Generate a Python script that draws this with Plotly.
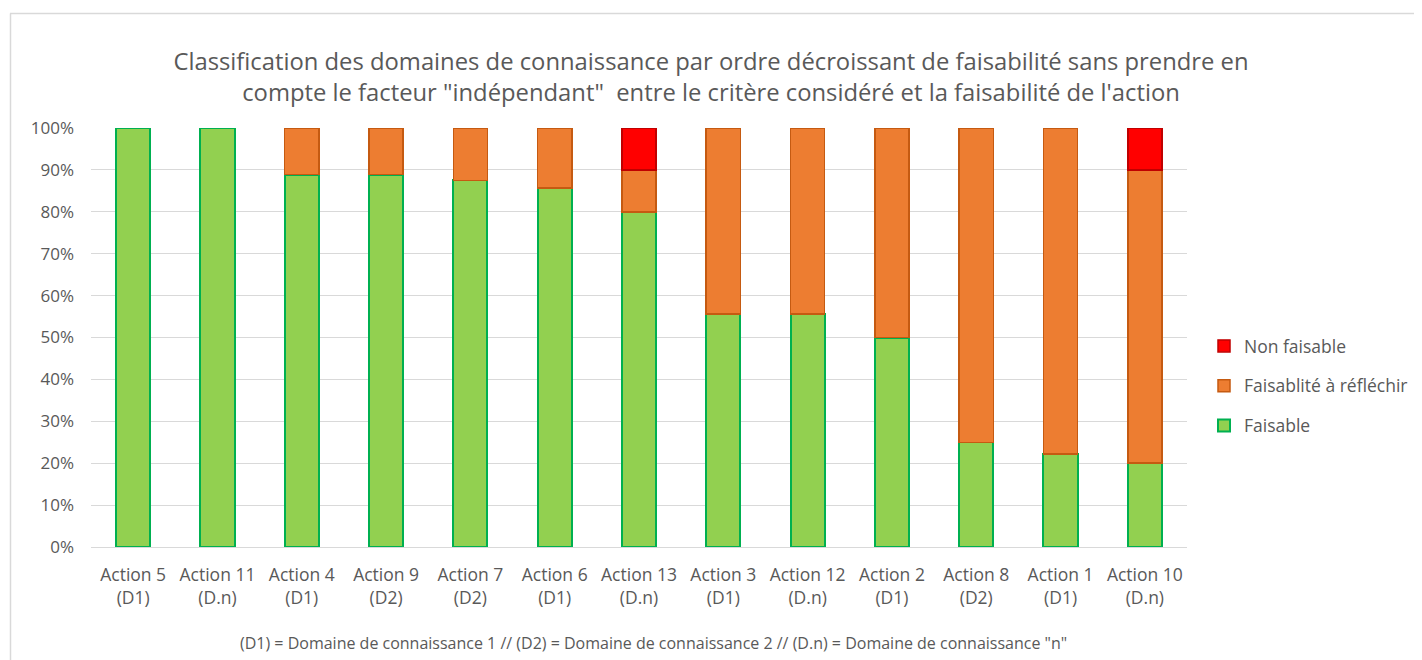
import plotly.graph_objects as go

categories = ["Action 5<br>(D1)", "Action 11<br>(D.n)", "Action 4<br>(D1)", "Action 9<br>(D2)",
              "Action 7<br>(D2)", "Action 6<br>(D1)", "Action 13<br>(D.n)", "Action 3<br>(D1)",
              "Action 12<br>(D.n)", "Action 2<br>(D1)", "Action 8<br>(D2)", "Action 1<br>(D1)",
              "Action 10<br>(D.n)"]
faisable = [1.0, 1.0, 0.889, 0.889, 0.875, 0.857, 0.80, 0.556, 0.556, 0.50, 0.25, 0.222, 0.20]
a_reflechir = [0.0, 0.0, 0.111, 0.111, 0.125, 0.143, 0.10, 0.444, 0.444, 0.50, 0.75, 0.778, 0.70]
non_faisable = [0.0, 0.0, 0.0, 0.0, 0.0, 0.0, 0.10, 0.0, 0.0, 0.0, 0.0, 0.0, 0.10]
y_ticks = [i / 10 for i in range(11)]

FONT = "Open Sans"
GREY = "#595959"
OFF = 8  # page body margin in the browser


def nz(vals):
    return [v if v else None for v in vals]


fig = go.Figure()
fig.add_trace(go.Bar(name="Faisable", x=categories, y=nz(faisable), legendgroup="c", legendrank=3,
                     marker=dict(color="#92D050", line=dict(color="#00B050", width=2))))
fig.add_trace(go.Bar(name="Faisablité à réfléchir", x=categories, y=nz(a_reflechir), legendgroup="b", legendrank=2,
                     marker=dict(color="#ED7D31", line=dict(color="#C55A11", width=1.5))))
fig.add_trace(go.Bar(name="Non faisable", x=categories, y=nz(non_faisable), legendgroup="a", legendrank=1,
                     marker=dict(color="#FF0000", line=dict(color="#C00000", width=1.5))))

# reference pixel coordinates of plot area
X0, X1, Y0, Y1 = 91, 1187, 128, 547
W, H = 1422, 660
L, R, T, B = X0 - OFF, W - (X1 - OFF), Y0 - OFF, H - (Y1 - OFF)
pw, ph = W - L - R, H - T - B


def px_x(px):
    return (px - OFF - L) / pw


def px_y(py):
    return (H - B - (py - OFF)) / ph


fig.update_layout(
    width=W, height=H,
    margin=dict(l=L, r=R, t=T, b=B, pad=0),
    barmode="stack", bargap=0.595,
    plot_bgcolor="white", paper_bgcolor="white",
    font=dict(family=FONT, color=GREY, size=17),
    title=dict(text="Classification des domaines de connaissance par ordre décroissant de faisabilité sans prendre en<br>compte le facteur \"indépendant\"  entre le critère considéré et la faisabilité de l'action",
               x=((172 + 1250) / 2 - OFF) / W, xanchor="center", y=1 - (70 - OFF) / H, yanchor="middle",
               font=dict(family=FONT, size=23.8, color=GREY)),
    xaxis=dict(showgrid=False, showline=True, linecolor="#D9D9D9", linewidth=1,
               ticks="", ticklabelstandoff=12, tickfont=dict(size=17.5, color=GREY)),
    yaxis=dict(range=[0, 1], tickvals=y_ticks, tickformat=".0%", showgrid=True,
               gridcolor="#D9D9D9", gridwidth=1, zeroline=False, showline=False,
               ticks="", ticklen=0, ticklabelstandoff=16, tickfont=dict(size=17, color=GREY)),
    legend=dict(x=px_x(1204), y=px_y(386), xanchor="left", yanchor="middle",
                traceorder="grouped", font=dict(size=17.5, color=GREY),
                itemwidth=30, tracegroupgap=14, bgcolor="rgba(0,0,0,0)"),
    showlegend=True,
)

fig.add_annotation(text="(D1) = Domaine de connaissance 1 // (D2) = Domaine de connaissance 2 // (D.n) = Domaine de connaissance \"n\"",
                   xref="paper", yref="paper", x=px_x(653.5), y=px_y(643),
                   xanchor="center", yanchor="middle", showarrow=False,
                   font=dict(family=FONT, size=16, color=GREY))

# chart frame
fig.add_shape(type="line", xref="paper", yref="paper",
              x0=px_x(10), x1=px_x(1440), y0=px_y(13.5), y1=px_y(13.5),
              line=dict(color="#D9D9D9", width=1.5))
fig.add_shape(type="line", xref="paper", yref="paper",
              x0=px_x(10.5), x1=px_x(10.5), y0=px_y(13.5), y1=px_y(680),
              line=dict(color="#D9D9D9", width=1.5))

fig.write_html("out.html")
